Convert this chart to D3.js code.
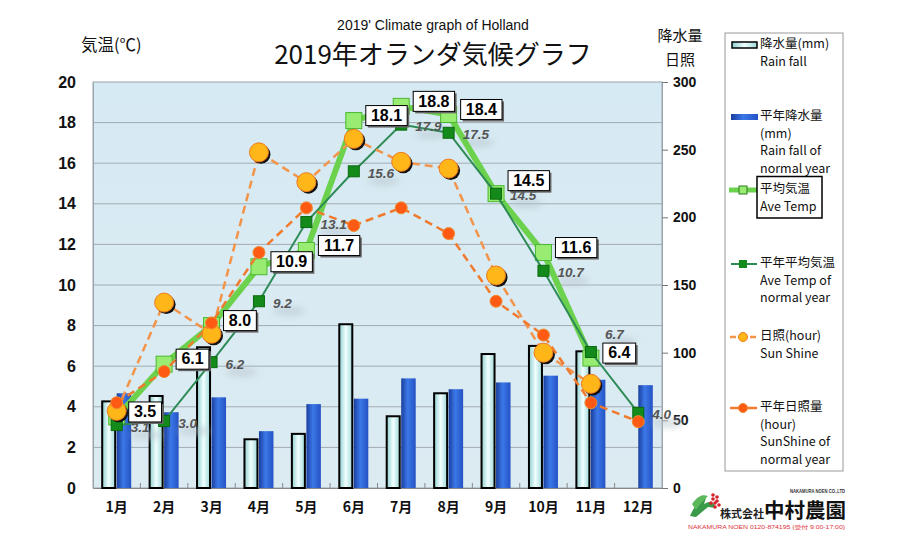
<!DOCTYPE html>
<html><head><meta charset="utf-8">
<script src="https://cdn.jsdelivr.net/npm/d3@7"></script>
<style>body{margin:0;background:#fff}svg{display:block}</style>
</head><body>
<svg id="c" width="901" height="537"></svg>
<script>
// ---- data ----
const months = ["1月","2月","3月","4月","5月","6月","7月","8月","9月","10月","11月","12月"];
const rainfall = [64, 68, 104, 36, 40, 121, 53, 70, 99, 105, 101, null];
const rainfallNormal = [70, 56, 67, 42, 62, 66, 81, 73, 78, 83, 80, 76];
const aveTemp = [3.5, 6.1, 8.0, 10.9, 11.7, 18.1, 18.8, 18.4, 14.5, 11.6, 6.4, null];
const aveTempNormal = [3.1, 3.3, 6.2, 9.2, 13.1, 15.6, 17.9, 17.5, 14.5, 10.7, 6.7, 3.7];
const aveTempNormalLabels = ["3.1","3.0","6.2","9.2","13.1","15.6","17.9","17.5","14.5","10.7","6.7","4.0"];
const sunshine = [57, 137, 114, 248, 226, 258, 241, 236, 157, 100, 77, null];
const sunshineNormal = [63, 86, 122, 174, 207, 194, 207, 188, 138, 113, 63, 49];
const leftTicks = [0,2,4,6,8,10,12,14,16,18,20];
const rightTicks = [0,50,100,150,200,250,300];

const svg = d3.select("#c");
const FONT = "'Liberation Sans', Arial, 'Noto Sans CJK JP', sans-serif";
const JFONT = "'Noto Sans CJK JP', 'Liberation Sans', sans-serif";

const L = 93, R = 662, T = 82, B = 488;
const x = d3.scaleBand().domain(months).range([L, R]);
const yL = d3.scaleLinear().domain([0, 20]).range([B, T]);
const yR = d3.scaleLinear().domain([0, 300]).range([B, T]);
const cx = m => x(m) + x.bandwidth() / 2;

// defs
const defs = svg.append("defs");
const g1 = defs.append("linearGradient").attr("id","rainG");
g1.append("stop").attr("offset","0%").attr("stop-color","#8fcfcf");
g1.append("stop").attr("offset","50%").attr("stop-color","#f2ffff");
g1.append("stop").attr("offset","100%").attr("stop-color","#9fd8d8");
const g2 = defs.append("linearGradient").attr("id","normG");
g2.append("stop").attr("offset","0%").attr("stop-color","#1a3e9e");
g2.append("stop").attr("offset","45%").attr("stop-color","#3c78e8");
g2.append("stop").attr("offset","100%").attr("stop-color","#2452c4");
const bgG = defs.append("linearGradient").attr("id","bgG").attr("x1",0).attr("y1",0).attr("x2",0).attr("y2",1);
bgG.append("stop").attr("offset","0%").attr("stop-color","#d6eaf3");
bgG.append("stop").attr("offset","100%").attr("stop-color","#dcebf2");
const sh = defs.append("filter").attr("id","soft").attr("x","-50%").attr("y","-50%").attr("width","200%").attr("height","200%");
sh.append("feGaussianBlur").attr("stdDeviation",3);

// title
svg.append("text").attr("x",433).attr("y",30).attr("text-anchor","middle")
  .attr("font-family",FONT).attr("font-size",14).attr("fill","#111")
  .text("2019' Climate graph of Holland");
svg.append("text").attr("x",433).attr("y",64).attr("text-anchor","middle")
  .attr("font-family",JFONT).attr("font-size",26).attr("fill","#111")
  .text("2019年オランダ気候グラフ");
svg.append("text").attr("x",81).attr("y",51)
  .attr("font-family",JFONT).attr("font-size",16.5).attr("fill","#111")
  .text("気温(℃)");
svg.append("text").attr("x",680).attr("y",41).attr("text-anchor","middle")
  .attr("font-family",JFONT).attr("font-size",15).attr("fill","#111").text("降水量");
svg.append("text").attr("x",680).attr("y",65).attr("text-anchor","middle")
  .attr("font-family",JFONT).attr("font-size",15).attr("fill","#111").text("日照");

// plot background
svg.append("rect").attr("x",L).attr("y",T).attr("width",R-L).attr("height",B-T)
  .attr("fill","url(#bgG)").attr("stroke","#9aa4ac").attr("stroke-width",1);

// gridlines
svg.append("g").selectAll("line").data(leftTicks.filter(d=>d>0 && d<20)).join("line")
  .attr("x1",L).attr("x2",R).attr("y1",d=>yL(d)).attr("y2",d=>yL(d))
  .attr("stroke","#a3abb3").attr("stroke-width",1);

// axes
const axL = svg.append("g").attr("transform",`translate(${L},0)`)
  .call(d3.axisLeft(yL).tickValues(leftTicks).tickSize(0).tickPadding(17));
axL.select(".domain").attr("stroke","#9aa4ac");
axL.selectAll("text").attr("font-family",FONT).attr("font-size",16).attr("font-weight","bold").attr("fill","#111");

const axR = svg.append("g").attr("transform",`translate(${R},0)`)
  .call(d3.axisRight(yR).tickValues(rightTicks).tickSize(6).tickPadding(5));
axR.select(".domain").attr("stroke","#9aa4ac");
axR.selectAll("line").attr("stroke","#777");
axR.selectAll("text").attr("font-family",FONT).attr("font-size",14).attr("font-weight","bold").attr("fill","#111");

const axB = svg.append("g").attr("transform",`translate(0,${B})`)
  .call(d3.axisBottom(x).tickSize(0).tickPadding(14));
axB.select(".domain").attr("stroke","#888");
axB.selectAll("text").attr("font-family",JFONT).attr("font-size",14).attr("font-weight","bold").attr("fill","#111");
svg.append("g").selectAll("line").data(months.slice(1)).join("line")
  .attr("x1",d=>x(d)).attr("x2",d=>x(d)).attr("y1",B).attr("y2",B-5)
  .attr("stroke","#888");

// bars
const bw = 14.5;
const rainIdx = months.map((m,i)=>({m, v: rainfall[i]})).filter(d=>d.v!=null);
svg.append("g").selectAll("rect").data(rainIdx).join("rect")
  .attr("x",d=>cx(d.m)-bw).attr("y",d=>yR(d.v)).attr("width",bw-1.5).attr("height",d=>B-yR(d.v))
  .attr("fill","url(#rainG)").attr("stroke","#000").attr("stroke-width",2);
svg.append("g").selectAll("rect").data(months.map((m,i)=>({m, v: rainfallNormal[i]}))).join("rect")
  .attr("x",d=>cx(d.m)).attr("y",d=>yR(d.v)).attr("width",bw).attr("height",d=>B-yR(d.v))
  .attr("fill","url(#normG)");

// points
const ptsOf = (arr, ys) => months.map((m,i)=>({m, i, v: arr[i]})).filter(d=>d.v!=null).map(d=>({m:d.m, i:d.i, v:d.v, x:cx(d.m), y:ys(d.v)}));
const line = d3.line().x(d=>d.x).y(d=>d.y);
const pAve = ptsOf(aveTemp, yL);
const pAveN = ptsOf(aveTempNormal, yL);
const pSun = ptsOf(sunshine, yR);
const pSunN = ptsOf(sunshineNormal, yR);

// label layout (collision rule between avg box and normal label)
const boxH = 20;
pAve.forEach(d=>{
  const n = aveTempNormal[d.i];
  d.ly = d.y - 5;
  if (n != null && Math.abs(yL(n) - d.y) < 4) d.ly = d.y - 13;
});
pAveN.forEach(d=>{
  d.ly = d.y + 3;
  const a = aveTemp[d.i];
  if (a != null) {
    const ay = pAve.find(p=>p.i===d.i).ly;
    if (Math.abs(d.ly - ay) < 16) {
      d.ly = (d.v > a) ? ay - boxH/2 - 8 : Math.max(d.y + 3, ay + boxH/2 + 9);
    }
  }
});

// soft label shadows for normal temp
svg.append("g").selectAll("ellipse").data(pAveN).join("ellipse")
  .attr("cx",d=>d.x+30).attr("cy",d=>d.ly+7).attr("rx",16).attr("ry",5)
  .attr("fill","#b8c4cc").attr("opacity",0.5).attr("filter","url(#soft)");

// avg temp
svg.append("path").attr("d",line(pAve)).attr("fill","none").attr("stroke","#6cd24e").attr("stroke-width",6).attr("stroke-linejoin","round");
svg.append("g").selectAll("rect").data(pAve).join("rect")
  .attr("x",d=>d.x-8).attr("y",d=>d.y-8).attr("width",16).attr("height",16)
  .attr("fill","#98ec72").attr("stroke","#4cb832").attr("stroke-width",1);

// normal temp
svg.append("path").attr("d",line(pAveN)).attr("fill","none").attr("stroke","#2e8b57").attr("stroke-width",2);
svg.append("g").selectAll("rect").data(pAveN).join("rect")
  .attr("x",d=>d.x-5.5).attr("y",d=>d.y-5.5).attr("width",11).attr("height",11)
  .attr("fill","#138a1a").attr("stroke","#0b6a10").attr("stroke-width",1);

// sunshine
svg.append("path").attr("d",line(pSun)).attr("fill","none").attr("stroke","#f2944a").attr("stroke-width",2.5).attr("stroke-dasharray","8,5");
svg.append("g").selectAll("circle").data(pSun).join("circle")
  .attr("cx",d=>d.x+2).attr("cy",d=>d.y+2).attr("r",9.5).attr("fill","#111");
svg.append("g").selectAll("circle").data(pSun).join("circle")
  .attr("cx",d=>d.x).attr("cy",d=>d.y).attr("r",9.5)
  .attr("fill","#ffb619").attr("stroke","#f07a20").attr("stroke-width",1);

// normal sunshine
svg.append("path").attr("d",line(pSunN)).attr("fill","none").attr("stroke","#f07a2e").attr("stroke-width",2.5).attr("stroke-dasharray","8,5");
svg.append("g").selectAll("circle").data(pSunN).join("circle")
  .attr("cx",d=>d.x).attr("cy",d=>d.y).attr("r",6)
  .attr("fill","#ff5a14").attr("stroke","#f08a30").attr("stroke-width",1);

// normal temp labels
svg.append("g").selectAll("text").data(pAveN).join("text")
  .attr("x",d=>d.x+14).attr("y",d=>d.ly).attr("dominant-baseline","middle")
  .attr("font-family",FONT).attr("font-size",13.5).attr("font-style","italic").attr("font-weight","bold")
  .attr("fill","#555").text(d=>aveTempNormalLabels[d.i]);

// avg temp labels with boxes
const lab = svg.append("g").selectAll("g").data(pAve).join("g")
  .attr("transform",d=>`translate(${d.x+12},${d.ly})`);
lab.each(function(d){
  const g = d3.select(this);
  const t = d.v.toFixed(1);
  const w = t.length*8.6 + 7;
  g.append("rect").attr("x",2).attr("y",-boxH/2+2).attr("width",w).attr("height",boxH).attr("fill","#666");
  g.append("rect").attr("x",0).attr("y",-boxH/2).attr("width",w).attr("height",boxH).attr("fill","#fff").attr("stroke","#000").attr("stroke-width",1);
  g.append("text").attr("x",w/2).attr("y",1).attr("text-anchor","middle").attr("dominant-baseline","middle")
    .attr("font-family",FONT).attr("font-size",16).attr("font-weight","bold").attr("fill","#000").text(t);
});

// legend
const lg = svg.append("g");
lg.append("rect").attr("x",725).attr("y",33).attr("width",118).attr("height",438).attr("fill","#fff").attr("stroke","#9a9a9a");
const items = [
  {y:45, lines:["降水量(mm)","Rain fall"], type:"rain"},
  {y:117, lines:["平年降水量","(mm)","Rain fall of","normal year"], type:"normrain"},
  {y:190, lines:["平均気温","Ave Temp"], type:"ave"},
  {y:264, lines:["平年平均気温","Ave Temp of","normal year"], type:"aven"},
  {y:337, lines:["日照(hour)","Sun Shine"], type:"sun"},
  {y:408, lines:["平年日照量","(hour)","SunShine of","normal year"], type:"sunn"}
];
items.forEach(it=>{
  it.lines.forEach((s,j)=>{
    lg.append("text").attr("x",760).attr("y",it.y + j*17.5).attr("dominant-baseline","middle")
      .attr("font-family",JFONT).attr("font-size",12.5).attr("fill","#111").text(s);
  });
  const y = it.y;
  if (it.type==="rain") {
    lg.append("rect").attr("x",732).attr("y",y-3).attr("width",25).attr("height",6).attr("fill","url(#rainG)").attr("stroke","#000").attr("stroke-width",1.5);
  } else if (it.type==="normrain") {
    lg.append("rect").attr("x",731).attr("y",y-3).attr("width",27).attr("height",6).attr("fill","url(#normG)");
  } else if (it.type==="ave") {
    lg.append("line").attr("x1",729).attr("x2",757).attr("y1",y).attr("y2",y).attr("stroke","#6cd24e").attr("stroke-width",5);
    lg.append("rect").attr("x",739).attr("y",y-4).attr("width",8).attr("height",8).attr("fill","#98ec72").attr("stroke","#2a7a20");
    lg.append("rect").attr("x",757).attr("y",176.5).attr("width",65).attr("height",41.5).attr("fill","none").attr("stroke","#000").attr("stroke-width",1.5);
  } else if (it.type==="aven") {
    lg.append("line").attr("x1",731).attr("x2",757).attr("y1",y).attr("y2",y).attr("stroke","#2e8b57").attr("stroke-width",2);
    lg.append("rect").attr("x",739).attr("y",y-4).attr("width",8).attr("height",8).attr("fill","#138a1a");
  } else if (it.type==="sun") {
    lg.append("line").attr("x1",730).attr("x2",757).attr("y1",y).attr("y2",y).attr("stroke","#f2944a").attr("stroke-width",2.5).attr("stroke-dasharray","6,4");
    lg.append("circle").attr("cx",743).attr("cy",y).attr("r",4.5).attr("fill","#ffb619").attr("stroke","#f07a20");
  } else {
    lg.append("line").attr("x1",730).attr("x2",757).attr("y1",y).attr("y2",y).attr("stroke","#f07a2e").attr("stroke-width",2.5);
    lg.append("circle").attr("cx",743).attr("cy",y).attr("r",4.5).attr("fill","#ff5a14").attr("stroke","#f08a30");
  }
});

// logo
const lo = svg.append("g");
lo.append("path").attr("d","M690,516 C694,506 700,500 706,498 L704,504 C710,500 714,502 716,508 L708,507 C704,510 700,514 696,517 Z")
  .attr("fill","#3a9a4a");
lo.append("path").attr("d","M692,504 C698,496 702,494 708,496 C704,500 700,504 696,510 Z").attr("fill","#5cb85c");
[[713,495],[717,497],[713,499],[717,501],[715,503],[711,503],[719,505],[715,507]].forEach(p=>{
  lo.append("circle").attr("cx",p[0]).attr("cy",p[1]).attr("r",1.8).attr("fill","#d8202a");
});
lo.append("text").attr("x",720).attr("y",518).attr("font-family",JFONT).attr("font-size",11).attr("font-weight","bold").attr("fill","#222").text("株式会社");
lo.append("text").attr("x",764).attr("y",518).attr("font-family",JFONT).attr("font-size",20).attr("font-weight","bold").attr("fill","#111")
  .attr("textLength",82).attr("lengthAdjust","spacingAndGlyphs").text("中村農園");
lo.append("text").attr("x",790).attr("y",493).attr("font-family",FONT).attr("font-size",5).attr("font-weight","bold").attr("fill","#333")
  .attr("textLength",55).attr("lengthAdjust","spacingAndGlyphs").text("NAKAMURA NOEN CO.,LTD");
lo.append("text").attr("x",688).attr("y",529).attr("font-family",FONT).attr("font-size",5).attr("fill","#e0303a")
  .attr("textLength",157).attr("lengthAdjust","spacingAndGlyphs").text("NAKAMURA NOEN 0120-874195 (受付 9:00-17:00)");
</script>
</body></html>
